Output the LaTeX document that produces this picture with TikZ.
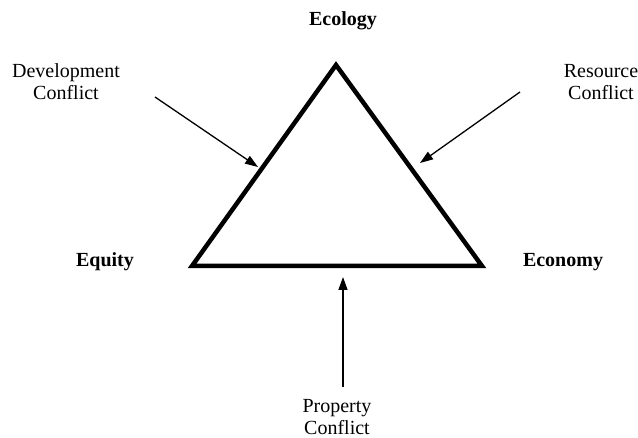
\documentclass[tikz,border=0pt]{standalone}
\usepackage{fontspec}
\setmainfont{Liberation Serif}
\usetikzlibrary{arrows.meta}
\begin{document}
\begin{tikzpicture}[x=1pt,y=-1pt,
  lbl/.style={font=\fontsize{20}{22}\selectfont, align=center, inner sep=0pt},
  blbl/.style={font=\fontsize{20}{22}\selectfont\bfseries, inner sep=0pt},
  conn/.style={line width=1.3pt, -{Triangle[length=13pt,width=9pt]}},
  tri/.style={line width=4.5pt, line join=miter}]
\useasboundingbox (0,0) rectangle (638,438);
\coordinate (top) at (336,65);
\coordinate (bl) at (192,266);
\coordinate (br) at (482,266);
\draw[tri] (top) -- (bl) -- (br) -- cycle;
\node[blbl, anchor=base] (ecology) at (343,26) {Ecology};
\node[blbl, anchor=base] (equity) at (105,267) {Equity};
\node[blbl, anchor=base] (economy) at (563,267) {Economy};
\node[lbl] (dev) at (66,82) {Development\\Conflict};
\node[lbl] (res) at (601,82) {Resource\\Conflict};
\node[lbl] (prop) at (337,417) {Property\\Conflict};
\coordinate (devs) at (155,97);
\coordinate (devt) at (258,167);
\coordinate (ress) at (520,92);
\coordinate (rest) at (420,163);
\coordinate (props) at (343,387);
\coordinate (propt) at (343,277);
\draw[conn] (devs) -- (devt);
\draw[conn] (ress) -- (rest);
\draw[conn] (props) -- (propt);
\end{tikzpicture}
\end{document}
